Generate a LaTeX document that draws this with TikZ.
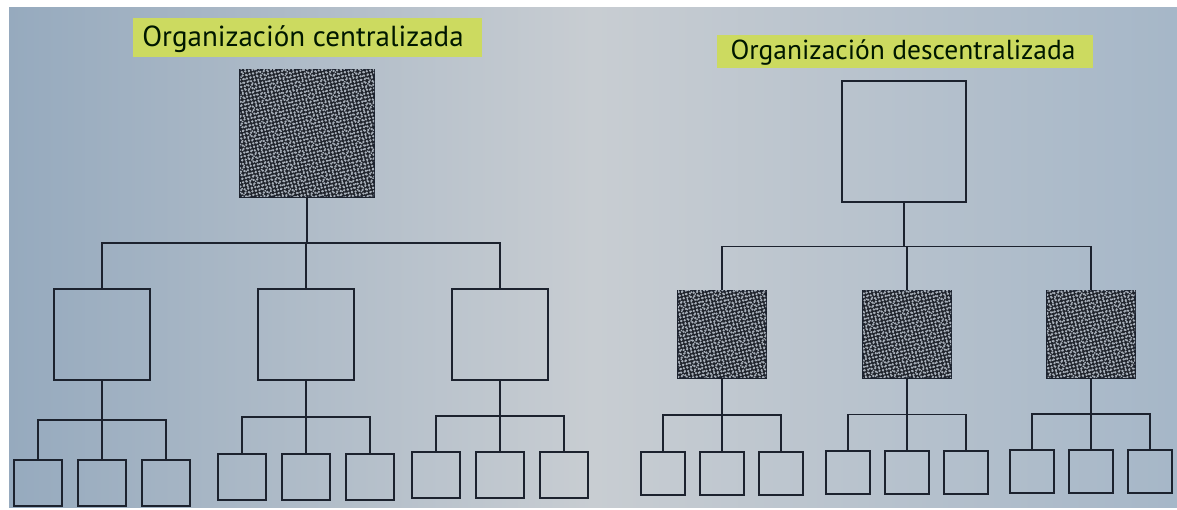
\documentclass[tikz,border=0pt]{standalone}
\usepackage{fontspec}
\setmainfont{PT Sans}
\usetikzlibrary{positioning,calc,patterns.meta}
\definecolor{paperblue}{RGB}{150,170,190}
\definecolor{paperlight}{RGB}{200,205,210}
\definecolor{ink}{RGB}{28,34,46}
\definecolor{mottle}{RGB}{32,36,44}
\definecolor{speck}{RGB}{168,176,186}
\definecolor{marker}{RGB}{204,218,96}

\begin{document}
\begin{tikzpicture}[x=1pt,y=1pt,node distance=14pt,
	light box/.style = {rectangle,draw=ink,line width=2pt,inner sep=0pt},
	dark box/.style = {light box,fill=mottle,
		postaction={pattern={Dots[radius=1.3pt,distance=3.6pt,angle=12]},pattern color=speck},
		postaction={pattern={Dots[radius=1pt,distance=4.3pt,angle=-27,xshift=1.3pt]},pattern color=speck}},
	mid box/.style = {minimum width=96pt,minimum height=91pt},
	leaf box/.style = {light box,minimum width=48pt,minimum height=46pt},
	title/.style = {anchor=base,text=black!85!green!60!black},
	every edge/.style = {draw=ink,line width=1.8pt,
		to path={(\tikztostart.south) |- ($(\tikztostart.south)!.5!(\tikztotarget.north)$) -| (\tikztotarget.north)}}]

	\useasboundingbox (0,0) rectangle (1177,510);
	\fill[white] (0,0) rectangle (1177,510);
	\shade[left color=paperblue,right color=paperblue!85!white,middle color=paperlight] (9,2) rectangle (1177,502);

	% titles
	\fill[marker] (133,453) rectangle (482,492);
	\node[title,font=\fontsize{29}{32}\selectfont] (tc) at (303,463) {Organización centralizada};
	\fill[marker] (717,442) rectangle (1093,475);
	\node[title,font=\fontsize{27.5}{30}\selectfont] (td) at (903,450) {Organización descentralizada};

	% centralizada
	\node[dark box,minimum width=134pt,minimum height=127pt] (c0) at (307,376.5) {};
	\node[light box,mid box] (c1) at (102,175) {};
	\node[light box,mid box] (c2) at (306,175) {};
	\node[light box,mid box] (c3) at (500,175) {};

	\node[leaf box] (c12) at (102,27) {};
	\node[leaf box] [left=of c12] (c11) {};
	\node[leaf box] [right=of c12] (c13) {};
	\node[leaf box] (c22) at (306,33) {};
	\node[leaf box] [left=of c22] (c21) {};
	\node[leaf box] [right=of c22] (c23) {};
	\node[leaf box] (c32) at (500,35) {};
	\node[leaf box] [left=of c32] (c31) {};
	\node[leaf box] [right=of c32] (c33) {};

	\path (c0) edge (c1) edge (c2) edge (c3);
	\path (c1) edge (c11) edge (c12) edge (c13);
	\path (c2) edge (c21) edge (c22) edge (c23);
	\path (c3) edge (c31) edge (c32) edge (c33);

	% descentralizada
	\begin{scope}[node distance=13pt,
		mid box/.style = {minimum width=88pt,minimum height=87pt},
		leaf box/.append style = {minimum width=44pt,minimum height=43pt}]
	\node[light box,minimum width=124pt,minimum height=121pt] (d0) at (904,368.5) {};
	\node[dark box,mid box] (d1) at (722,175.5) {};
	\node[dark box,mid box] (d2) at (907,175.5) {};
	\node[dark box,mid box] (d3) at (1091,175.5) {};

	\node[leaf box] (d12) at (722,36) {};
	\node[leaf box] [left=of d12] (d11) {};
	\node[leaf box] [right=of d12] (d13) {};
	\node[leaf box] (d22) at (907,37.5) {};
	\node[leaf box] [left=of d22] (d21) {};
	\node[leaf box] [right=of d22] (d23) {};
	\node[leaf box] (d32) at (1091,38.5) {};
	\node[leaf box] [left=of d32] (d31) {};
	\node[leaf box] [right=of d32] (d33) {};

	\path (d0) edge (d1) edge (d2) edge (d3);
	\path (d1) edge (d11) edge (d12) edge (d13);
	\path (d2) edge (d21) edge (d22) edge (d23);
	\path (d3) edge (d31) edge (d32) edge (d33);
	\end{scope}
\end{tikzpicture}
\end{document}
